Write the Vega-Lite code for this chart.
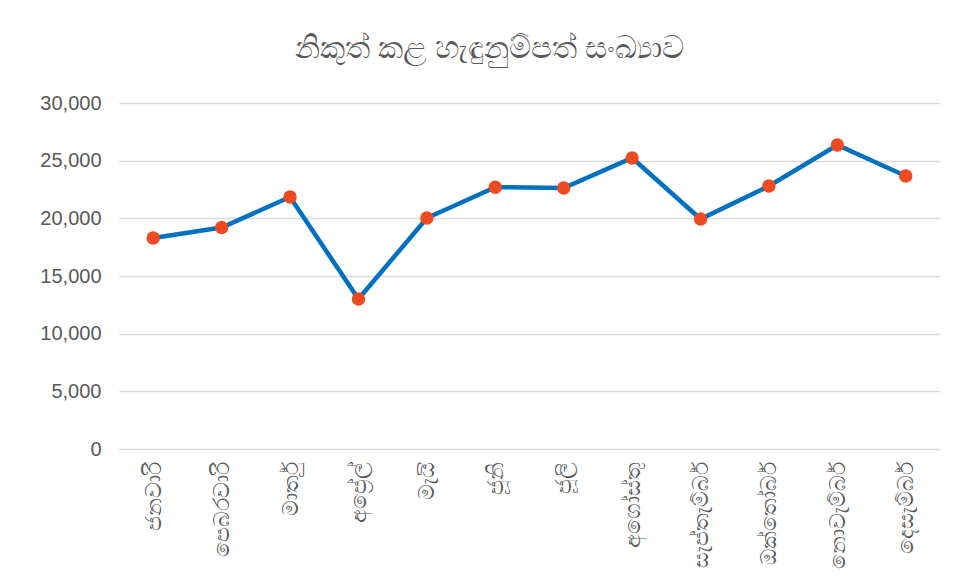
{
  "$schema": "https://vega.github.io/schema/vega-lite/v6.json",
  "autosize": {"type": "none"},
  "width": 821,
  "height": 346,
  "padding": {"left": 119, "top": 103, "right": 21, "bottom": 129},
  "background": "white",
  "title": {
    "text": "නිකුත් කළ හැඳුනුම්පත් සංඛ්‍යාව",
    "fontSize": 31,
    "font": "Noto Sans",
    "fontWeight": "normal",
    "color": "#595959",
    "anchor": "middle",
    "offset": 28,
    "dx": -40
  },
  "data": {
    "values": [
      {"month": "ජනවාරි", "count": 18300},
      {"month": "පෙබරවාරි", "count": 19200},
      {"month": "මාර්තු", "count": 21850},
      {"month": "අප්‍රේල්", "count": 13000},
      {"month": "මැයි", "count": 20030},
      {"month": "ජූනි", "count": 22700},
      {"month": "ජූලි", "count": 22630},
      {"month": "අගෝස්තු", "count": 25230},
      {"month": "සැප්තැම්බර්", "count": 19940},
      {"month": "ඔක්තෝබර්", "count": 22800},
      {"month": "නොවැම්බර්", "count": 26360},
      {"month": "දෙසැම්බර්", "count": 23670}
    ]
  },
  "encoding": {
    "x": {
      "field": "month",
      "type": "ordinal",
      "sort": null,
      "scale": {"type": "point", "padding": 0.5},
      "axis": {
        "title": null,
        "labelAngle": -90,
        "labelAlign": "right",
        "labelBaseline": "middle",
        "labelFontSize": 22,
        "labelFont": "Noto Sans",
        "labelColor": "#595959",
        "labelPadding": 12,
        "labelLimit": 200,
        "domain": false,
        "ticks": false,
        "grid": false
      }
    },
    "y": {
      "field": "count",
      "type": "quantitative",
      "scale": {"domain": [0, 30000]},
      "axis": {
        "title": null,
        "values": [0, 5000, 10000, 15000, 20000, 25000, 30000],
        "format": ",.0f",
        "labelFontSize": 20,
        "labelFont": "Liberation Sans",
        "labelColor": "#595959",
        "labelPadding": 18,
        "domain": false,
        "ticks": false,
        "gridColor": "#D9D9D9",
        "gridWidth": 1.3
      }
    }
  },
  "layer": [
    {"mark": {"type": "line", "color": "#0070C0", "strokeWidth": 4.5}},
    {"mark": {"type": "circle", "color": "#EE4B22", "opacity": 1, "size": 180}}
  ],
  "config": {"view": {"stroke": null}}
}
